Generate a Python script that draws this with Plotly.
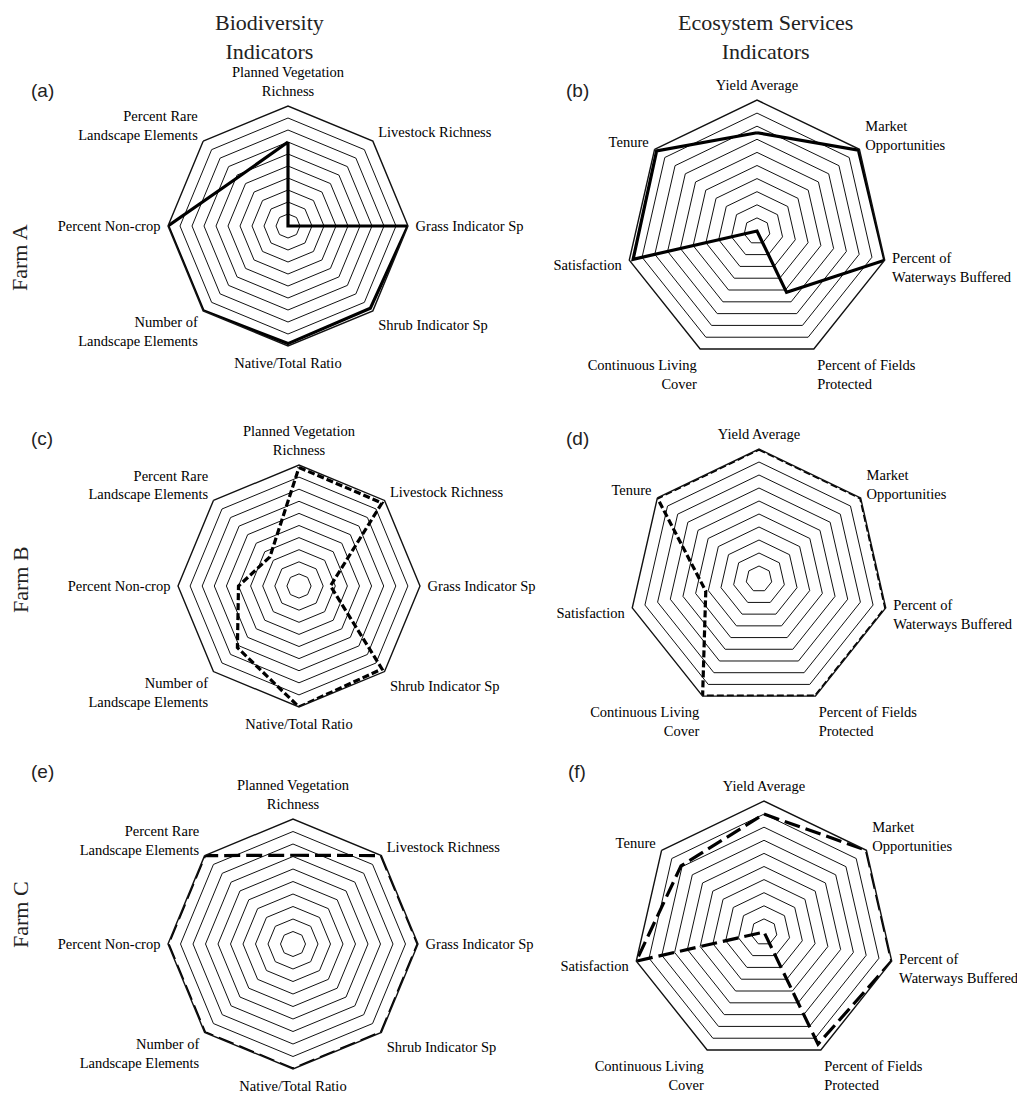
import plotly.graph_objects as go

# ---------------- data ----------------
bio_axes = ["Planned Vegetation<br>Richness", "Livestock Richness", "Grass Indicator Sp",
            "Shrub Indicator Sp", "Native/Total Ratio", "Number of<br>Landscape Elements",
            "Percent Non-crop", "Percent Rare<br>Landscape Elements"]
es_axes = ["Yield Average", "Market<br>Opportunities", "Percent of<br>Waterways Buffered",
           "Percent of Fields<br>Protected", "Continuous Living<br>Cover", "Satisfaction", "Tenure"]

farm_a_bio = [7.0, 0.0, 10.0, 9.7, 9.8, 10.0, 10.0, 5.8]
farm_a_es = [7.5, 9.9, 10.0, 5.2, 0.0, 9.7, 9.8]
farm_b_bio = [9.8, 9.7, 2.6, 9.7, 10.0, 7.2, 5.0, 3.4]
farm_b_es = [10.0, 10.0, 10.0, 10.0, 10.0, 4.2, 10.0]
farm_c_bio = [7.1, 10.0, 10.0, 10.0, 10.0, 10.0, 10.0, 10.0]
farm_c_es = [9.0, 10.0, 10.0, 9.5, 0.0, 10.0, 8.1]

ring_values = list(range(1, 11))
panel_tags = ["(a)", "(b)", "(c)", "(d)", "(e)", "(f)"]
row_titles = ["Farm A", "Farm B", "Farm C"]
col_titles = ["Biodiversity<br>Indicators", "Ecosystem Services<br>Indicators"]

# ---------------- layout geometry (page pixels) ----------------
OFF = 8                      # default page margin around the plot div
W, H = 1025 - OFF, 1095 - OFF


def px_x(x):
    return (x - OFF) / W


def px_y(y):
    return 1 - (y - OFF) / H


# (center x, center y, radius) of each radar panel, in page pixels
panels = [
    (288, 226, 120), (757, 231, 131),
    (299, 586, 121), (759, 579, 130),
    (293, 944, 125), (764, 932, 131),
]
series = [farm_a_bio, farm_a_es, farm_b_bio, farm_b_es, farm_c_bio, farm_c_es]
axes_list = [bio_axes, es_axes] * 3
dashes = ["solid", "solid", "7px,3px", "7px,3px", "16px,6px", "16px,6px"]

SERIF = "Liberation Serif"
fig = go.Figure()
layout_polars = {}
for i, ((cx, cy, R), vals, axes, dash) in enumerate(zip(panels, series, axes_list, dashes)):
    name = "polar" if i == 0 else f"polar{i+1}"
    fig.add_trace(go.Scatterpolar(
        r=vals + [vals[0]], theta=axes + [axes[0]], mode="lines",
        line=dict(color="black", width=3.2, dash=dash),
        subplot=name, showlegend=False, hoverinfo="skip"))
    layout_polars[name] = dict(
        domain=dict(x=[px_x(cx - R), px_x(cx + R)], y=[px_y(cy + R), px_y(cy - R)]),
        gridshape="linear",
        bgcolor="white",
        radialaxis=dict(range=[0, 10], tickvals=ring_values, showticklabels=False, ticks="",
                        showline=False, gridcolor="#111111", gridwidth=1.3),
        angularaxis=dict(rotation=90, direction="clockwise", showgrid=False, showline=True,
                         linecolor="#111111", linewidth=1.4,
                         ticks="outside", ticklen=4, tickcolor="rgba(0,0,0,0)",
                         categoryorder="array", categoryarray=axes,
                         tickfont=dict(family=SERIF, size=14.5, color="black")),
    )

annotations = []
# column titles
for txt, x in zip(col_titles, [269, 765]):
    annotations.append(dict(text=txt, x=px_x(x), y=px_y(8), xref="paper", yref="paper",
                            xanchor="center", yanchor="top", showarrow=False,
                            font=dict(family=SERIF, size=22, color="#222")))
# row titles
for txt, y in zip(row_titles, [258, 580, 915]):
    annotations.append(dict(text=txt, x=px_x(20), y=px_y(y), xref="paper", yref="paper",
                            xanchor="center", yanchor="middle", textangle=-90, showarrow=False,
                            font=dict(family=SERIF, size=22, color="#222")))
# panel tags
for tag, (x, y) in zip(panel_tags, [(42, 90), (577, 90), (42, 438), (577, 438), (42, 771), (577, 771)]):
    annotations.append(dict(text=tag, x=px_x(x), y=px_y(y), xref="paper", yref="paper",
                            xanchor="center", yanchor="middle", showarrow=False,
                            font=dict(family="Liberation Sans", size=19, color="#222")))

fig.update_layout(width=W, height=H, autosize=False,
                  margin=dict(l=0, r=0, t=0, b=0),
                  paper_bgcolor="white", plot_bgcolor="white",
                  annotations=annotations, **layout_polars)

fig.write_html("out.html")
